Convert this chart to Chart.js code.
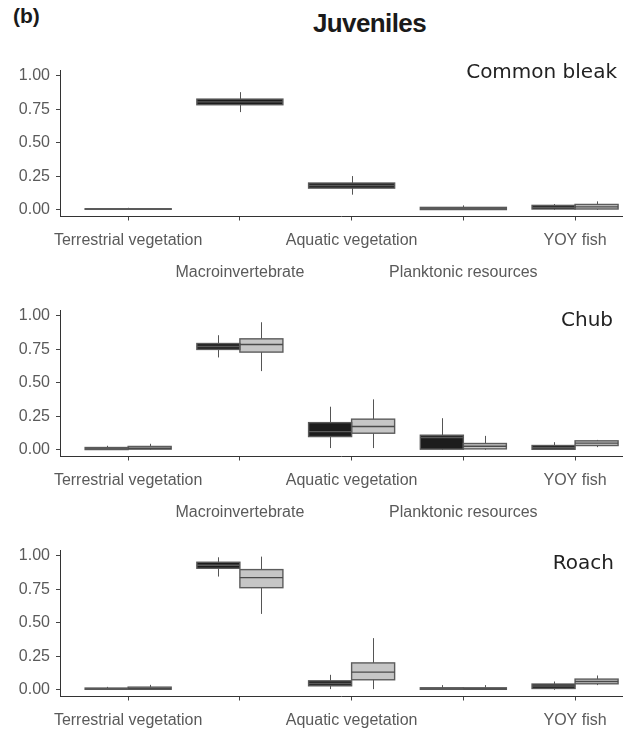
<!DOCTYPE html>
<html>
<head>
<meta charset="utf-8">
<title>Juveniles</title>
<script src="https://cdn.jsdelivr.net/npm/chart.js@4/dist/chart.umd.min.js"></script>
<style>
  html, body { margin: 0; padding: 0; width: 637px; height: 729px; overflow: hidden; background: #fff; }
  .tag { position: absolute; left: 13px; top: 5px; font: bold 21px "Liberation Sans", Arial, sans-serif; line-height: 1; color: #1a1a1a; }
  .title { position: absolute; left: 0; width: 739px; top: 10px; text-align: center; font: bold 26px "Liberation Sans", Arial, sans-serif; letter-spacing: -0.6px; line-height: 1; color: #1a1a1a; }
  .panel { position: absolute; left: 0; width: 637px; height: 240px; }
</style>
</head>
<body>
<div class="tag">(b)</div>
<div class="title">Juveniles</div>
<div class="panel" style="top:55px"><canvas id="bleakChart" width="637" height="240"></canvas></div>
<div class="panel" style="top:295px"><canvas id="chubChart" width="637" height="240"></canvas></div>
<div class="panel" style="top:535px"><canvas id="roachChart" width="637" height="240"></canvas></div>
<script>
const categories = ['Terrestrial vegetation', 'Macroinvertebrate', 'Aquatic vegetation', 'Planktonic resources', 'YOY fish'];
const yTicks = [0, 0.25, 0.5, 0.75, 1];

// each box: [lower whisker, Q1, median, Q3, upper whisker]
const bleakDark = [
    [0, 0, 0.004, 0.008, 0.015],
    [0.73, 0.785, 0.806, 0.827, 0.879],
    [0.113, 0.162, 0.182, 0.2, 0.252],
    [0, 0.002, 0.01, 0.018, 0.033],
    [0, 0.006, 0.018, 0.033, 0.043]
];
const bleakLight = [null, null, null, null, [0, 0.006, 0.022, 0.04, 0.063]];

const chubDark = [
    [0, 0.002, 0.008, 0.017, 0.03],
    [0.69, 0.75, 0.772, 0.794, 0.856],
    [0.013, 0.099, 0.136, 0.203, 0.322],
    [0, 0.005, 0.092, 0.109, 0.236],
    [0, 0, 0.015, 0.032, 0.057]
];
const chubLight = [
    [0, 0.005, 0.012, 0.025, 0.045],
    [0.588, 0.73, 0.787, 0.829, 0.953],
    [0.013, 0.124, 0.174, 0.229, 0.377],
    [0, 0.007, 0.027, 0.047, 0.104],
    [0.02, 0.032, 0.05, 0.067, 0.074]
];

const roachDark = [
    [0, 0, 0.006, 0.013, 0.022],
    [0.846, 0.908, 0.93, 0.953, 0.99],
    [0.005, 0.03, 0.047, 0.067, 0.112],
    [0, 0, 0.007, 0.015, 0.035],
    [0, 0.01, 0.028, 0.043, 0.062]
];
const roachLight = [
    [0, 0, 0.01, 0.02, 0.037],
    [0.567, 0.763, 0.838, 0.898, 0.995],
    [0.005, 0.075, 0.132, 0.201, 0.386],
    [0, 0, 0.007, 0.015, 0.035],
    [0.035, 0.045, 0.062, 0.08, 0.107]
];

Chart.defaults.font.family = '"Liberation Sans", Arial, sans-serif';

// whiskers behind the boxes, outline + median on top
const boxPlot = {
    id: 'boxPlot',
    beforeDatasetsDraw(chart) {
        const ctx = chart.ctx;
        const y = chart.scales.y;
        chart.data.datasets.forEach((ds, d) => {
            chart.getDatasetMeta(d).data.forEach((bar, i) => {
                const s = ds.stats[i];
                if (!s) return;
                const x = Math.round(bar.x) + 0.5;
                ctx.save();
                ctx.strokeStyle = '#555';
                ctx.lineWidth = 1;
                ctx.beginPath();
                ctx.moveTo(x, y.getPixelForValue(s[0]));
                ctx.lineTo(x, y.getPixelForValue(s[4]));
                ctx.stroke();
                ctx.restore();
            });
        });
    },
    afterDatasetsDraw(chart) {
        const ctx = chart.ctx;
        const y = chart.scales.y;
        chart.data.datasets.forEach((ds, d) => {
            chart.getDatasetMeta(d).data.forEach((bar, i) => {
                const s = ds.stats[i];
                if (!s) return;
                const left = bar.x - bar.width / 2;
                const top = Math.min(bar.y, bar.base);
                const h = Math.abs(bar.base - bar.y);
                const med = y.getPixelForValue(s[2]);
                ctx.save();
                ctx.lineWidth = 1.4;
                ctx.strokeStyle = ds.lineColor;
                ctx.strokeRect(left, top, bar.width, h);
                ctx.strokeStyle = ds.medianColor;
                ctx.beginPath();
                ctx.moveTo(left, med);
                ctx.lineTo(left + bar.width, med);
                ctx.stroke();
                ctx.restore();
            });
        });
    }
};

const panelLabel = {
    id: 'panelLabel',
    afterDraw(chart, args, opts) {
        const ctx = chart.ctx;
        ctx.save();
        ctx.font = '20px "DejaVu Sans"';
        ctx.fillStyle = '#222';
        ctx.textAlign = 'right';
        ctx.textBaseline = 'alphabetic';
        ctx.fillText(opts.text, opts.x, opts.y);
        ctx.restore();
    }
};

function boxDataset(boxes, fill, line, median) {
    return {
        data: boxes.map((b, i) => ({ x: i, y: b ? [b[1], b[3]] : null })),
        stats: boxes,
        backgroundColor: fill,
        borderWidth: 0,
        lineColor: line,
        medianColor: median,
        skipNull: true,
        categoryPercentage: 0.77,
        barPercentage: 1
    };
}

function makePanel(id, name, dark, light, labelY, labelX, twoRows) {
    new Chart(document.getElementById(id), {
        type: 'bar',
        data: {
            datasets: [
                boxDataset(dark, '#1c1c1c', '#5a5a5a', '#5a5a5a'),
                boxDataset(light, '#c6c6c6', '#5c5c5c', '#4a4a4a')
            ]
        },
        plugins: [boxPlot, panelLabel],
        options: {
            responsive: false,
            animation: false,
            layout: { padding: { top: 15, right: 15, left: 0, bottom: 0 } },
            plugins: {
                legend: { display: false },
                tooltip: { enabled: false },
                panelLabel: { text: name, x: labelX, y: labelY }
            },
            scales: {
                x: {
                    type: 'linear',
                    min: -0.61,
                    max: 4.42,
                    bounds: 'data',
                    offset: false,
                    afterBuildTicks: s => { s.ticks = categories.map((c, i) => ({ value: i })); },
                    afterFit: s => { s.height = 78.5; },
                    grid: { offset: false, drawOnChartArea: false, tickLength: 4, color: '#444' },
                    border: { color: '#333', width: 1 },
                    ticks: {
                        autoSkip: false,
                        maxRotation: 0,
                        padding: 4,
                        color: '#5a5a5a',
                        font: { size: 16, lineHeight: 2 },
                        callback: v => {
                            const name = categories[v];
                            if (v % 2 === 0) return name;
                            return twoRows ? ['', name] : '';
                        }
                    }
                },
                y: {
                    min: -0.05,
                    max: 1.04,
                    bounds: 'data',
                    afterBuildTicks: s => { s.ticks = yTicks.map(v => ({ value: v })); },
                    afterFit: s => { s.width = 60; },
                    grid: { drawOnChartArea: false, tickLength: 4, color: '#444' },
                    border: { color: '#333', width: 1 },
                    ticks: {
                        padding: 6,
                        color: '#5a5a5a',
                        font: { size: 16 },
                        callback: v => v.toFixed(2)
                    }
                }
            }
        }
    });
}

makePanel('bleakChart', 'Common bleak', bleakDark, bleakLight, 22.5, 617, true);
makePanel('chubChart', 'Chub', chubDark, chubLight, 30.5, 613, true);
makePanel('roachChart', 'Roach', roachDark, roachLight, 34, 614, false);
</script>
</body>
</html>
